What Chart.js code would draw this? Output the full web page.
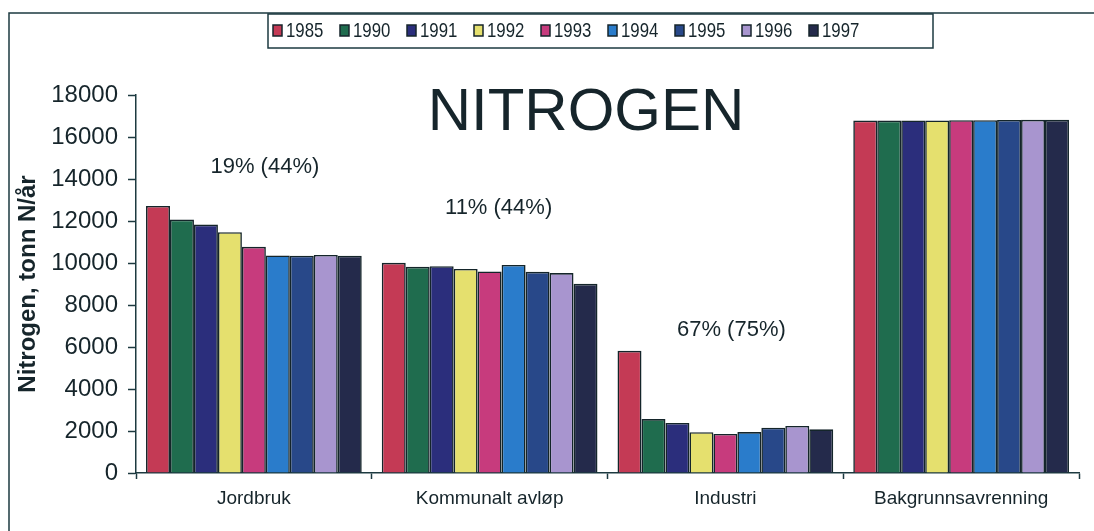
<!DOCTYPE html>
<html>
<head>
<meta charset="utf-8">
<script src="https://cdn.jsdelivr.net/npm/chart.js@4.4.1/dist/chart.umd.min.js"></script>
<style>
  html, body { margin: 0; padding: 0; background: #fff; }
  #wrap { width: 1094px; height: 531px; }
</style>
</head>
<body>
<div id="wrap"><canvas id="c" width="1094" height="531"></canvas></div>
<script>
// kategorier og år
const categories = ['Jordbruk', 'Kommunalt avløp', 'Industri', 'Bakgrunnsavrenning'];
const years = ['1985', '1990', '1991', '1992', '1993', '1994', '1995', '1996', '1997'];
const yTicks = [0, 2000, 4000, 6000, 8000, 10000, 12000, 14000, 16000, 18000];

// tonn N/år per år: [Jordbruk, Kommunalt avløp, Industri, Bakgrunnsavrenning]
const v1985 = [12720, 10010, 5820, 16780];
const v1990 = [12070, 9820, 2570, 16780];
const v1991 = [11830, 9850, 2380, 16790];
const v1992 = [11470, 9720, 1940, 16790];
const v1993 = [10770, 9600, 1860, 16800];
const v1994 = [10360, 9910, 1950, 16800];
const v1995 = [10350, 9580, 2160, 16810];
const v1996 = [10380, 9520, 2240, 16820];
const v1997 = [10350, 9010, 2080, 16820];
const values = [v1985, v1990, v1991, v1992, v1993, v1994, v1995, v1996, v1997];

// reduksjon i prosent over hver gruppe
const notes = ['19% (44%)', '11% (44%)', '67% (75%)'];
const noteY = [14560, 12610, 6800];

const colors = ['#c43a55', '#1f6c4e', '#2b2e7c', '#e5e06e', '#c73b7d', '#2a7ccb', '#284889', '#a895cf', '#242a4b'];
const INK = '#16252b';
const LINE = '#1d3a40';

// ramme, tittel, forklaring og prosenttekster
const decor = {
  id: 'decor',
  afterDraw(chart) {
    const ctx = chart.ctx;
    const x = chart.scales.x, y = chart.scales.y;
    ctx.save();
    // ytre ramme
    ctx.strokeStyle = LINE;
    ctx.lineWidth = 1.5;
    ctx.beginPath();
    ctx.moveTo(9, 531); ctx.lineTo(9, 13); ctx.lineTo(1094, 13);
    ctx.stroke();

    // tittel
    ctx.fillStyle = INK;
    ctx.font = '60px "Liberation Sans", Arial, sans-serif';
    ctx.textAlign = 'center';
    ctx.textBaseline = 'alphabetic';
    ctx.fillText('NITROGEN', 586, 130);

    // prosenttekster
    ctx.font = '22px "Liberation Sans", Arial, sans-serif';
    ctx.textBaseline = 'middle';
    const dx = [11, 9, 6];
    notes.forEach((t, i) => {
      ctx.fillText(t, x.getPixelForValue(i) + dx[i], y.getPixelForValue(noteY[i]));
    });

    // forklaring
    ctx.strokeStyle = LINE;
    ctx.lineWidth = 1.5;
    ctx.fillStyle = '#fff';
    ctx.fillRect(268, 14, 665, 34);
    ctx.strokeRect(268, 14, 665, 34);
    ctx.font = '21px "Liberation Sans", Arial, sans-serif';
    ctx.textAlign = 'left';
    let lx = 273;
    chart.data.datasets.forEach(ds => {
      ctx.fillStyle = ds.backgroundColor;
      ctx.fillRect(lx, 25, 9, 11);
      ctx.strokeStyle = INK;
      ctx.lineWidth = 1.5;
      ctx.strokeRect(lx, 25, 9, 11);
      ctx.fillStyle = INK;
      ctx.save();
      ctx.translate(lx + 13, 31);
      ctx.scale(0.8, 1);
      ctx.fillText(ds.label, 0, 0);
      ctx.restore();
      lx += 67;
    });
    ctx.restore();
  }
};

new Chart(document.getElementById('c'), {
  type: 'bar',
  data: {
    labels: categories,
    datasets: years.map((yr, i) => ({
      label: yr,
      data: values[i],
      backgroundColor: colors[i],
      borderColor: '#14252a',
      borderWidth: 1.6,
      categoryPercentage: 0.915,
      barPercentage: 1
    }))
  },
  options: {
    responsive: false,
    animation: false,
    devicePixelRatio: 1,
    layout: { padding: { left: 0, right: 15, top: 95, bottom: 0 } },
    plugins: { legend: { display: false }, tooltip: { enabled: false } },
    scales: {
      x: {
        afterFit(s) { s.height = 58; },
        grid: { offset: true, drawOnChartArea: false, tickLength: 6, color: LINE, tickWidth: 1.5 },
        border: { display: true, color: LINE, width: 1.5 },
        ticks: { color: INK, padding: 8, font: { family: '"Liberation Sans", Arial, sans-serif', size: 19 } }
      },
      y: {
        min: 0,
        max: 18000,
        afterFit(s) { s.width = 136; },
        afterBuildTicks(s) { s.ticks = yTicks.map(v => ({ value: v })); },
        grid: { drawOnChartArea: false, tickLength: 8, color: LINE, tickWidth: 1.5 },
        border: { display: true, color: LINE, width: 1.5 },
        ticks: {
          color: INK,
          padding: 10,
          callback: v => String(v),
          font: { family: '"Liberation Sans", Arial, sans-serif', size: 24 }
        },
        title: {
          display: true,
          text: 'Nitrogen, tonn N/år',
          color: INK,
          padding: { top: 14, bottom: 0 },
          font: { family: '"Liberation Sans", Arial, sans-serif', size: 24, weight: 'bold' }
        }
      }
    }
  },
  plugins: [decor]
});
</script>
</body>
</html>
